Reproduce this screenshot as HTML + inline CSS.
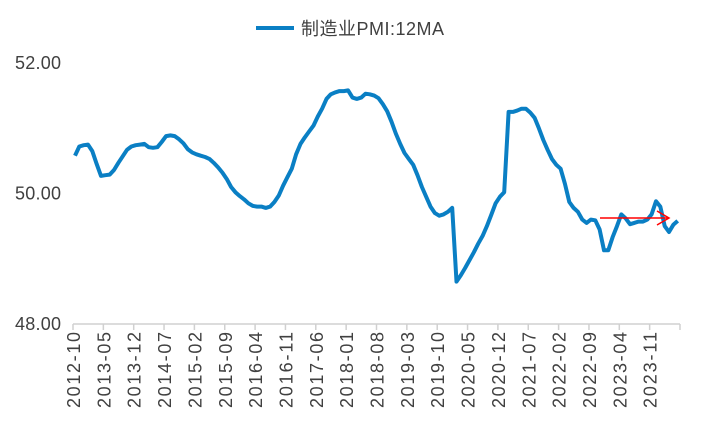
<!DOCTYPE html>
<html><head><meta charset="utf-8"><style>
body{margin:0;background:#fff;}
svg{display:block;font-family:"Liberation Sans","Noto Sans CJK SC",sans-serif;}
</style></head><body>
<svg id="chart" width="702" height="433" viewBox="0 0 702 433">
<g>
<line x1="256" y1="28" x2="294" y2="28" stroke="#0a7fc4" stroke-width="4"/>
<text x="301" y="35" font-size="18" fill="#404040" textLength="143">制造业PMI:12MA</text>
</g>
<g id="yaxis"></g>
<g id="xaxis"></g>
<path id="series" fill="none" stroke="#0a7fc4" stroke-width="4" stroke-linejoin="round"/>
<g>
<line x1="600" y1="218" x2="668" y2="218" stroke="#ff0000" stroke-width="1.5"/>
<polyline points="657,211 669,218 657,225" fill="none" stroke="#ff0000" stroke-width="1.5"/>
</g>
</svg>
<script>
const values=[50.58,50.72,50.74,50.75,50.65,50.45,50.27,50.28,50.29,50.36,50.47,50.57,50.67,50.72,50.74,50.75,50.76,50.71,50.70,50.71,50.79,50.88,50.89,50.88,50.83,50.77,50.68,50.63,50.60,50.58,50.56,50.53,50.47,50.40,50.32,50.22,50.10,50.02,49.96,49.91,49.85,49.81,49.80,49.80,49.78,49.80,49.87,49.97,50.12,50.25,50.38,50.60,50.76,50.86,50.95,51.04,51.18,51.30,51.45,51.52,51.55,51.57,51.57,51.58,51.47,51.45,51.47,51.53,51.52,51.50,51.46,51.37,51.26,51.10,50.92,50.76,50.62,50.53,50.44,50.28,50.10,49.95,49.80,49.70,49.66,49.68,49.72,49.78,48.65,48.75,48.86,48.98,49.10,49.23,49.35,49.50,49.67,49.85,49.95,50.02,51.25,51.25,51.27,51.30,51.30,51.24,51.16,51.00,50.82,50.67,50.53,50.44,50.38,50.15,49.87,49.78,49.72,49.60,49.55,49.60,49.59,49.45,49.13,49.13,49.33,49.50,49.68,49.62,49.53,49.55,49.57,49.57,49.60,49.68,49.88,49.80,49.50,49.41,49.52,49.58];
const yTicks=[48,50,52];
const yTickLabels=["48.00","50.00","52.00"];
const xTickLabels=["2012-10","2013-05","2013-12","2014-07","2015-02","2015-09","2016-04","2016-11","2017-06","2018-01","2018-08","2019-03","2019-10","2020-05","2020-12","2021-07","2022-02","2022-09","2023-04","2023-11"];
const NS="http://www.w3.org/2000/svg";
const x0=73,x1=680,y0=324,y1=63;
const step=(x1-x0)/140;
function xOf(i){return x0+2+i*step;}
function yOf(v){return y0-(v-48)/(52-48)*(y0-y1);}
const ya=document.getElementById('yaxis');
yTicks.forEach((v,k)=>{
 const t=document.createElementNS(NS,'text');
 
 
 t.setAttribute('x',61);t.setAttribute('y',yOf(v)+6);
 t.setAttribute('text-anchor','end');t.setAttribute('font-size','18');t.setAttribute('fill','#404040');
 t.setAttribute('textLength','46');
 t.textContent=yTickLabels[k];ya.appendChild(t);
});
const xa=document.getElementById('xaxis');
const al=document.createElementNS(NS,'line');


al.setAttribute('x1',x0);al.setAttribute('x2',x1);al.setAttribute('y1',y0);al.setAttribute('y2',y0);
al.setAttribute('stroke','#d0d0d0');al.setAttribute('stroke-width','1.5');xa.appendChild(al);
for(let k=0;k<=xTickLabels.length;k++){
 const tx=x0+k*7*step;
 const tk=document.createElementNS(NS,'line');
 
 
 tk.setAttribute('x1',tx);tk.setAttribute('x2',tx);tk.setAttribute('y1',y0);tk.setAttribute('y2',y0+6);
 tk.setAttribute('stroke','#d0d0d0');tk.setAttribute('stroke-width','1.5');xa.appendChild(tk);
 if(k<xTickLabels.length){
  const t=document.createElementNS(NS,'text');
  
  
  t.setAttribute('transform','translate('+(tx+7)+','+(y0+8)+') rotate(-90)');
  t.setAttribute('text-anchor','end');t.setAttribute('font-size','18');t.setAttribute('fill','#404040');
  t.setAttribute('textLength','76');
  t.textContent=xTickLabels[k];xa.appendChild(t);
 }
}
document.getElementById('series').setAttribute('d',values.map((v,i)=>(i?'L':'M')+xOf(i).toFixed(1)+' '+yOf(v).toFixed(1)).join(' '));
</script>
</body></html>
